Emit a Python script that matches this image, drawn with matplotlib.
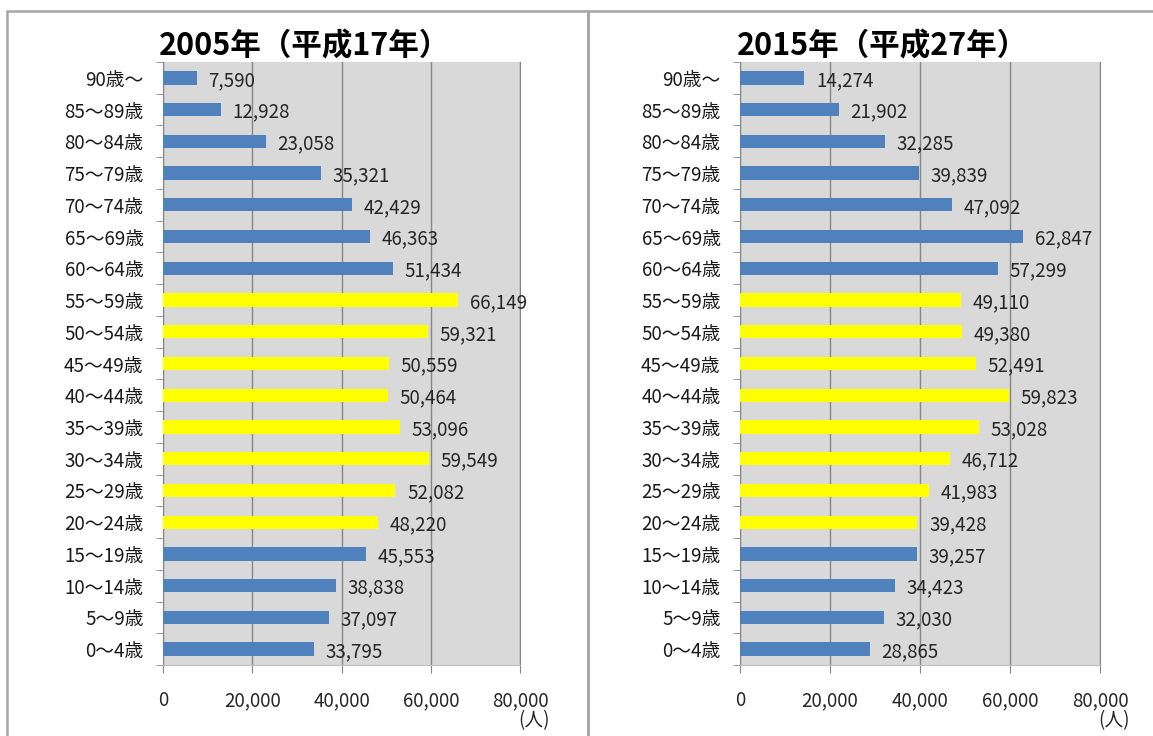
import matplotlib.pyplot as plt
from matplotlib.patches import Rectangle
from matplotlib.ticker import FuncFormatter, FixedLocator

plt.rcParams['font.family'] = ['Noto Sans CJK JP', 'DejaVu Sans']

ages = ['0～4歳', '5～9歳', '10～14歳', '15～19歳', '20～24歳', '25～29歳',
        '30～34歳', '35～39歳', '40～44歳', '45～49歳', '50～54歳', '55～59歳',
        '60～64歳', '65～69歳', '70～74歳', '75～79歳', '80～84歳', '85～89歳',
        '90歳～']
pop_2005 = [33795, 37097, 38838, 45553, 48220, 52082, 59549, 53096, 50464,
            50559, 59321, 66149, 51434, 46363, 42429, 35321, 23058, 12928, 7590]
pop_2015 = [28865, 32030, 34423, 39257, 39428, 41983, 46712, 53028, 59823,
            52491, 49380, 49110, 57299, 62847, 47092, 39839, 32285, 21902, 14274]
titles = ['2005年（平成17年）', '2015年（平成27年）']
# working-age groups (20-59) drawn in yellow
yellow_groups = ['20～24歳', '25～29歳', '30～34歳', '35～39歳', '40～44歳',
                 '45～49歳', '50～54歳', '55～59歳']

BLUE = '#4F81BD'
YELLOW = '#FFFF00'
GRID = '#868686'

fig = plt.figure(figsize=(11.53, 7.36), dpi=100)

# panel frames
W, H = 1153, 736
for x0, x1 in [(7, 588), (588, 1160)]:
    fig.patches.append(Rectangle((x0 / W, -0.1), (x1 - x0) / W, 1 - 11 / H + 0.1,
                                 transform=fig.transFigure, fill=False,
                                 edgecolor='#A6A6A6', linewidth=1.8))

positions = [(163, 520), (740, 1100)]
top_px, bot_px = 62, 665

for (l, r), title, vals in zip(positions, titles, [pop_2005, pop_2015]):
    ax = fig.add_axes([l / W, 1 - bot_px / H, (r - l) / W, (bot_px - top_px) / H])
    ax.set_facecolor('#D9D9D9')
    y = range(len(ages))
    colors = [YELLOW if a in yellow_groups else BLUE for a in ages]
    ax.barh(y, vals, height=0.42, color=colors, zorder=3)
    for yi, v in zip(y, vals):
        ax.text(v + 2600, yi - 0.08, f'{v:,}', va='center', ha='left',
                fontsize=13.5, color='#262626', zorder=4)
    ax.set_xlim(0, 80000)
    ax.set_ylim(-0.5, len(ages) - 0.5)
    ax.set_xticks([0, 20000, 40000, 60000, 80000])
    ax.xaxis.set_major_formatter(FuncFormatter(lambda v, p: f'{int(v):,}'))
    ax.grid(axis='x', color=GRID, linewidth=1.0, zorder=1)
    ax.set_yticks(list(y))
    ax.set_yticklabels(ages)
    ax.yaxis.set_minor_locator(FixedLocator([i - 0.5 for i in range(len(ages) + 1)]))
    ax.tick_params(axis='y', which='major', length=0, pad=14, labelsize=13.5,
                   labelcolor='#1a1a1a')
    ax.tick_params(axis='y', which='minor', length=5, color=GRID, direction='out')
    ax.tick_params(axis='x', length=6, color=GRID, pad=12, labelsize=13.5,
                   labelcolor='#262626')
    ax.spines['top'].set_visible(False)
    ax.spines['right'].set_color(GRID)
    ax.spines['left'].set_color(GRID)
    ax.spines['bottom'].set_color('#BFBFBF')
    ax.spines['bottom'].set_linewidth(0.8)
    ax.set_title(title, fontsize=22, fontweight='bold', pad=-2, loc='center',
                 x=0.395)
    ax.text(1.04, -0.092, '(人)', transform=ax.transAxes, ha='center',
            va='center', fontsize=13.5, color='#262626')

fig.savefig('out.png', dpi=100)
